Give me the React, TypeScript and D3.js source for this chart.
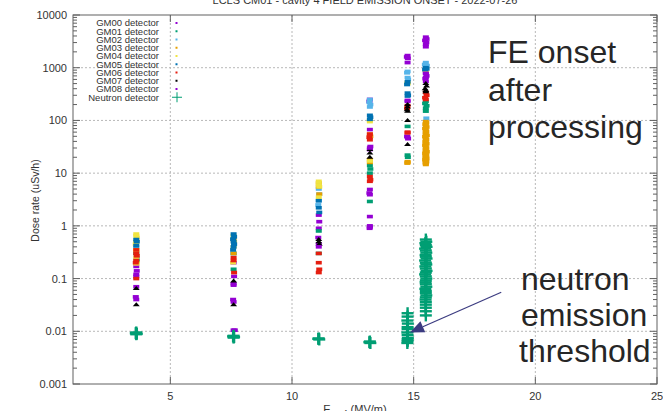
import React from "react";
import * as d3 from "d3";

type Pt = [number, number];

const seriesNames = ["GM00 detector","GM01 detector","GM02 detector","GM03 detector","GM04 detector","GM05 detector","GM06 detector","GM07 detector","GM08 detector","Neutron detector"];
const seriesColors = ["#9400d3","#009e73","#56b4e9","#e69f00","#f0e442","#0072b2","#e51e10","#000000","#9400d3","#009e73"];

const gm00: Pt[] = [
  [3.6,0.17],[3.62,0.14],[3.6,0.11],[3.6,0.07],[3.58,0.045],[3.6,0.04],
  [7.6,0.2],[7.62,0.11],[7.6,0.08],[7.58,0.04],[7.6,0.036],[7.6,0.0105],[7.65,0.0105],
  [11.1,1.6],[11.12,1.2],[11.1,0.9],[11.08,0.6],[11.1,0.45],
  [13.2,250],[13.18,230],[13.2,67],[13.22,32],[13.2,28],[13.2,4.9],[13.18,4.2],[13.2,3.9],[13.2,1.5],[13.2,1.0],[13.19,0.9],
  [14.75,1700],[14.72,1600],[14.76,1500],[14.75,1250],[14.75,230],[14.73,50],[14.77,45],
  [15.5,3800],[15.53,3500],[15.47,3300],[15.52,3000],[15.5,2800],[15.5,2500],[15.5,800],[15.53,700],[15.48,620],[15.5,550]
];
const gm01: Pt[] = [
  [3.6,0.3],[3.62,0.22],[7.6,0.3],[7.6,0.15],[11.1,0.8],[11.1,0.3],
  [13.2,14],[13.22,12],[13.2,10],[13.2,2.9],
  [14.75,77],[14.75,22],[14.76,20],
  [15.5,230],[15.47,210],[15.53,190],[15.5,170],[15.5,150]
];
const gm02: Pt[] = [
  [3.6,0.5],[3.6,0.4],[3.62,0.25],[7.6,0.6],[7.62,0.45],[7.6,0.3],
  [11.1,5],[11.12,4],[11.1,3],[11.08,2.5],
  [13.2,250],[13.18,220],[13.22,200],[13.2,180],
  [14.75,850],[14.73,800],[14.75,650],[14.77,600],
  [15.5,1250],[15.46,1150],[15.54,1100],[15.5,1050],[15.5,1000],[15.52,110]
];
const gm03: Pt[] = [
  [3.6,0.35],[3.6,0.2],[7.6,0.55],[7.6,0.3],
  [11.1,6.5],[11.1,5.5],[11.12,4],
  [13.2,55],[13.22,50],[13.2,18],[13.2,16],
  [14.75,16.5],[14.75,16],[14.74,15.5],
  [15.5,95],[15.52,90],[15.48,85],[15.5,80],[15.53,75],[15.47,70],[15.5,66],[15.52,62],[15.49,58],[15.5,55],
  [15.54,52],[15.47,49],[15.5,46],[15.52,43],[15.48,40],[15.5,38],[15.53,36],[15.47,34],[15.5,32],[15.52,30],
  [15.49,28.5],[15.5,27],[15.54,25.5],[15.47,24],[15.5,23],[15.52,22],[15.48,21],[15.5,20],[15.53,19],[15.47,18],
  [15.5,17.2],[15.52,16.5],[15.49,15.8],[15.5,15.2],[15.5,14.6]
];
const gm04: Pt[] = [
  [3.6,0.7],[3.6,0.65],[3.62,0.6],[3.6,0.5],[3.58,0.45],[3.6,0.35],[3.6,0.25],[3.62,0.2],[3.6,0.19],
  [7.6,0.65],[7.62,0.5],[7.6,0.4],[7.58,0.2],
  [11.1,7],[11.1,6],[11.12,5.5],[11.1,3.5],
  [13.2,100],[13.2,95],[13.2,17],
  [14.75,520],[14.75,500],
  [15.5,900],[15.5,880]
];
const gm05: Pt[] = [
  [3.6,0.55],[3.62,0.5],[3.6,0.42],
  [7.6,0.7],[7.62,0.62],[7.58,0.56],[7.6,0.5],[7.62,0.45],[7.6,0.4],[7.58,0.35],
  [11.1,3],[11.1,2.2],[11.12,1.8],
  [13.2,125],[13.22,115],[13.2,105],
  [14.75,540],[14.73,480],[14.75,330],[14.77,300],[14.75,290],
  [15.5,1000],[15.53,950],[15.47,920]
];
const gm06: Pt[] = [
  [3.6,0.35],[3.6,0.3],[3.62,0.27],[3.6,0.22],[3.58,0.2],[3.6,0.1],
  [7.6,0.25],[7.6,0.22],[7.62,0.13],
  [11.1,0.3],[11.1,0.2],[11.12,0.15],[11.1,0.13],
  [13.2,55],[13.18,48],[13.2,43],[13.2,8.6],[13.22,7.5],[13.2,7],
  [14.75,190],[14.73,170],[14.75,60],[14.75,58],
  [15.5,340],[15.53,300],[15.47,270],[15.5,250]
];
const gm07: Pt[] = [
  [3.6,0.065],[3.6,0.032],[7.6,0.09],[7.6,0.032],
  [11.1,0.55],[11.1,0.5],[11.12,0.45],
  [13.2,28],[13.2,24],[13.2,20],
  [14.75,200],[14.75,180],[14.73,160],[14.75,150],[14.75,100],[14.75,35],
  [15.5,500],[15.53,450],[15.47,400],[15.5,370],[15.5,350]
];
const gm08: Pt[] = [
  [3.6,0.12],[7.6,0.075],[11.1,0.4],[13.2,30],[13.2,0.95],[14.75,240],[14.75,48],[15.5,780],[15.5,650]
];
const neutron: Pt[] = [
  [3.6,0.0095],[3.62,0.009],[3.58,0.0092],[3.6,0.0088],
  [7.6,0.0082],[7.62,0.0078],[7.58,0.008],[7.6,0.0076],
  [11.1,0.0073],[11.12,0.007],[11.08,0.0072],
  [13.2,0.0064],[13.22,0.006],[13.18,0.0062],
  [14.75,0.022],[14.75,0.019],[14.74,0.016],[14.76,0.014],[14.75,0.012],[14.75,0.011],[14.74,0.0095],[14.75,0.0085],
  [14.76,0.0075],[14.75,0.007],[14.75,0.0065],[14.74,0.006],
  [15.5,0.55],[15.52,0.5],[15.48,0.47],[15.5,0.43],[15.53,0.4],[15.47,0.37],[15.5,0.34],[15.52,0.31],[15.49,0.28],
  [15.5,0.26],[15.53,0.24],[15.47,0.22],[15.5,0.2],[15.52,0.185],[15.48,0.17],[15.5,0.155],[15.53,0.14],[15.5,0.13],
  [15.47,0.12],[15.5,0.11],[15.52,0.1],[15.5,0.092],[15.49,0.085],[15.5,0.078],[15.52,0.07],[15.48,0.064],[15.5,0.058],
  [15.5,0.053],[15.52,0.048],[15.5,0.044],[15.49,0.04],[15.5,0.036],[15.5,0.032],[15.5,0.028],[15.5,0.024],[15.5,0.02]
];
const seriesData: Pt[][] = [gm00, gm01, gm02, gm03, gm04, gm05, gm06, gm07, gm08, neutron];

const xTicks = [5, 10, 15, 20, 25];
const yTicks = [0.001, 0.01, 0.1, 1, 10, 100, 1000, 10000];
const yTickLabels = ["0.001", "0.01", "0.1", "1", "10", "100", "1000", "10000"];

const W = 663, H = 411;
const L = 73, R = 657, T = 15, B = 384;
const FONT = "'Liberation Sans', Arial, sans-serif";

export default function App() {
  const x = d3.scaleLinear().domain([1, 25]).range([L, R]);
  const y = d3.scaleLog().domain([0.001, 10000]).range([B, T]);
  const minor: number[] = [];
  for (let e = -3; e < 4; e++) for (let m = 2; m <= 9; m++) minor.push(m * Math.pow(10, e));
  const axisColor = "#606060";
  const gridColor = "#b8b8b8";

  const marker = (si: number, px: number, py: number, k: string) => {
    const c = seriesColors[si];
    if (si === 9) {
      return (
        <g key={k} stroke={c} strokeWidth={2.4}>
          <line x1={px - 6} x2={px + 6} y1={py} y2={py} />
          <line x1={px} x2={px} y1={py - 6} y2={py + 6} />
        </g>
      );
    }
    if (si === 7) {
      return <path key={k} d={`M${px - 3.5},${py + 1.5}L${px + 3.5},${py + 1.5}L${px},${py - 2.5}Z`} fill={c} />;
    }
    return <rect key={k} x={px - 3} y={py - 1.8} width={6} height={3.6} fill={c} />;
  };

  const arrowTip: Pt = [14.85, 0.0095];
  const arrowStart: Pt = [18.6, 0.055];
  const ax1 = x(arrowStart[0]), ay1 = y(arrowStart[1]);
  const ax2 = x(arrowTip[0]), ay2 = y(arrowTip[1]);
  const ang = Math.atan2(ay1 - ay2, ax1 - ax2);
  const hl = 14, hw = 6;
  const bx = ax2 + hl * Math.cos(ang), by = ay2 + hl * Math.sin(ang);
  const px = -Math.sin(ang) * hw, py = Math.cos(ang) * hw;

  return (
    <svg width={W} height={H} style={{ position: "absolute", left: 0, top: 0, background: "#fff" }} fontFamily={FONT}>
      <rect x={0} y={0} width={W} height={H} fill="#fff" />
      <text x={365} y={4} textAnchor="middle" fontSize={11} fill="#333">LCLS CM01 - cavity 4 FIELD EMISSION ONSET - 2022-07-26</text>
      {xTicks.filter(t => t < 25).map(t => (
        <line key={"gx" + t} x1={x(t)} x2={x(t)} y1={T} y2={B} stroke={gridColor} strokeDasharray="2,2" />
      ))}
      {yTicks.filter(t => t > 0.001 && t < 10000).map(t => (
        <line key={"gy" + t} x1={L} x2={R} y1={y(t)} y2={y(t)} stroke={gridColor} strokeDasharray="2,2" />
      ))}
      {yTicks.map(t => (
        <g key={"yt" + t} stroke={axisColor}>
          <line x1={L} x2={L + 7} y1={y(t)} y2={y(t)} />
          <line x1={R} x2={R - 7} y1={y(t)} y2={y(t)} />
        </g>
      ))}
      {minor.map(t => (
        <g key={"ym" + t} stroke={axisColor}>
          <line x1={L} x2={L + 4} y1={y(t)} y2={y(t)} />
          <line x1={R} x2={R - 4} y1={y(t)} y2={y(t)} />
        </g>
      ))}
      {xTicks.map(t => (
        <g key={"xt" + t} stroke={axisColor}>
          <line x1={x(t)} x2={x(t)} y1={B} y2={B - 7} />
          <line x1={x(t)} x2={x(t)} y1={T} y2={T + 7} />
        </g>
      ))}
      <rect x={L} y={T} width={R - L} height={B - T} fill="none" stroke={axisColor} />
      {yTicks.map((t, i) => (
        <text key={"yl" + t} x={L - 6} y={y(t) + 4} textAnchor="end" fontSize={11} fill="#333">{yTickLabels[i]}</text>
      ))}
      {xTicks.map(t => (
        <text key={"xl" + t} x={x(t)} y={400} textAnchor="middle" fontSize={11} fill="#333">{t}</text>
      ))}
      <text transform={`translate(39,${(T + B) / 2 + 1}) rotate(-90)`} textAnchor="middle" fontSize={10.5} fill="#333">Dose rate (uSv/h)</text>
      <text x={355} y={413} textAnchor="middle" fontSize={11} fill="#333">E<tspan fontSize={8} dy={2}>cav4</tspan><tspan dy={-2}> (MV/m)</tspan></text>
      {seriesData.map((ser, si) => (
        <g key={"s" + si}>
          {ser.map((p, j) => marker(si, x(p[0]), y(p[1]), `p${si}-${j}`))}
        </g>
      ))}
      {seriesNames.map((n, i) => {
        const ly = 23 + i * 8.25;
        return (
          <g key={"lg" + i}>
            <text x={159} y={ly + 3.3} textAnchor="end" fontSize={9.5} fill="#333">{n}</text>
            {i === 9 ? (
              <g stroke={seriesColors[i]} strokeWidth={1}>
                <line x1={172} x2={182} y1={ly} y2={ly} />
                <line x1={177} x2={177} y1={ly - 5} y2={ly + 5} />
              </g>
            ) : (
              <rect x={175.5} y={ly - 1} width={2} height={2} fill={seriesColors[i]} />
            )}
          </g>
        );
      })}
      <g fontSize={32} fill="#262626">
        <text x={488} y={63}>FE onset</text>
        <text x={488} y={101}>after</text>
        <text x={488} y={138}>processing</text>
        <text x={521} y={290}>neutron</text>
        <text x={521} y={326}>emission</text>
        <text x={519} y={362}>threshold</text>
      </g>
      <line x1={ax1} y1={ay1} x2={bx} y2={by} stroke="#3b3b80" strokeWidth={1.2} />
      <path d={`M${ax2},${ay2}L${bx + px},${by + py}L${bx - px},${by - py}Z`} fill="#3b3b80" />
    </svg>
  );
}
